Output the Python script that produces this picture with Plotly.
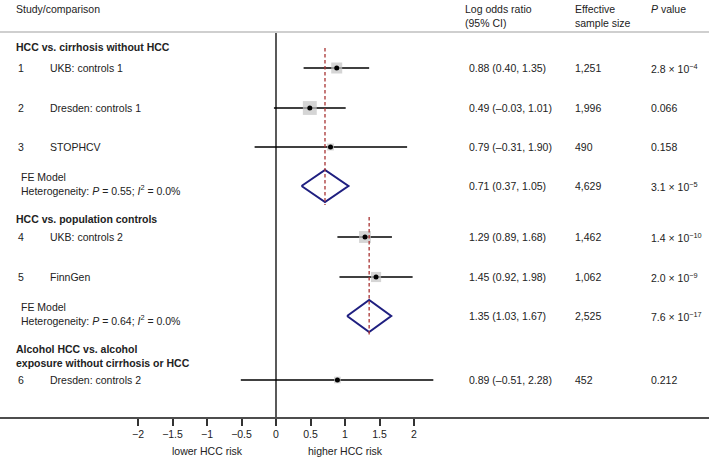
import plotly.graph_objects as go

# ---------------- data ----------------
studies = ["UKB: controls 1", "Dresden: controls 1", "STOPHCV",
           "UKB: controls 2", "FinnGen", "Dresden: controls 2"]
study_num = ["1", "2", "3", "4", "5", "6"]
est = [0.88, 0.49, 0.79, 1.29, 1.45, 0.89]
ci_lo = [0.40, -0.03, -0.31, 0.89, 0.92, -0.51]
ci_hi = [1.35, 1.01, 1.90, 1.68, 1.98, 2.28]
eff_n = [1251, 1996, 490, 1462, 1062, 452]
p_text = ["2.8 × 10<sup>−4</sup>", "0.066", "0.158",
          "1.4 × 10<sup>−10</sup>", "2.0 × 10<sup>−9</sup>", "0.212"]

fe_est = [0.71, 1.35]
fe_lo = [0.37, 1.03]
fe_hi = [1.05, 1.67]
fe_n = [4629, 2525]
fe_p_text = ["3.1 × 10<sup>−5</sup>", "7.6 × 10<sup>−17</sup>"]
het_p = [0.55, 0.64]
het_i2 = [0.0, 0.0]

groups = ["HCC vs. cirrhosis without HCC",
          "HCC vs. population controls",
          "Alcohol HCC vs. alcohol<br>exposure without cirrhosis or HCC"]

xticks = [-2, -1.5, -1, -0.5, 0, 0.5, 1, 1.5, 2]
xtick_text = ["−2", "−1.5", "−1", "−0.5", "0", "0.5", "1", "1.5", "2"]

# ---------------- layout constants (vertical slots, plot units = px) ----------------
W, H = 709, 459
MT, MB = 33, 42
PH = H - MT - MB
row_y = [35, 75, 114, 204, 244, 347]
fe_y = [153, 283]
group_y = [14, 186, 323]
fe_line_span = [(15, 172), (184, 302)]
diamond_half = 16

FONT = "Liberation Sans, Arial, sans-serif"
FS = 10.5
TXT = "#222222"

def px(x):
    return x / W

def fmt(v):
    return f"{v:.2f}".replace("-", "–")

fig = go.Figure()

# CI lines
for i in range(len(est)):
    fig.add_trace(go.Scatter(x=[ci_lo[i], ci_hi[i]], y=[row_y[i], row_y[i]], mode="lines",
                             line=dict(color="black", width=1.7), hoverinfo="skip", showlegend=False))
# weight squares
fig.add_trace(go.Scatter(x=est, y=row_y, mode="markers",
                         marker=dict(symbol="square", color="#c3c3c3",
                                     size=[0.311 * v ** 0.5 for v in eff_n], line=dict(width=0)),
                         hoverinfo="skip", showlegend=False))
# point estimates
fig.add_trace(go.Scatter(x=est, y=row_y, mode="markers",
                         marker=dict(symbol="circle", color="black", size=5),
                         hoverinfo="skip", showlegend=False))

# FE diamonds
for k in range(len(fe_est)):
    y0 = fe_y[k]
    fig.add_trace(go.Scatter(x=[fe_lo[k], fe_est[k], fe_hi[k], fe_est[k], fe_lo[k]],
                             y=[y0, y0 - diamond_half, y0, y0 + diamond_half, y0],
                             mode="lines", fill="toself", fillcolor="white",
                             line=dict(color="#1f1f80", width=2), hoverinfo="skip", showlegend=False))

shapes = []
# zero line
shapes.append(dict(type="line", xref="x", yref="y", x0=0, x1=0, y0=0, y1=PH,
                   line=dict(color="black", width=1.3)))
# FE dashed lines
for k in range(len(fe_est)):
    shapes.append(dict(type="line", xref="x", yref="y", x0=fe_est[k], x1=fe_est[k],
                       y0=fe_line_span[k][0], y1=fe_line_span[k][1],
                       line=dict(color="#a83232", width=1.3, dash="3.5px,2.5px"), layer="above"))
# top rule
shapes.append(dict(type="line", xref="paper", yref="paper", x0=0, x1=1,
                   y0=1 + 1 / PH, y1=1 + 1 / PH, line=dict(color="#cfcfcf", width=2)))

ann = []
def add_text(x, y, text, anchor="left", yref="y", bold=False, size=FS):
    ann.append(dict(x=px(x), y=y, xref="paper", yref=yref, text=f"<b>{text}</b>" if bold else text,
                    showarrow=False, xanchor=anchor, yanchor="middle", align="left",
                    font=dict(family=FONT, size=size, color=TXT)))

# headers (above plot area) in paper coords
def ytop(pix):
    return 1 + (MT - pix) / PH

add_text(14, ytop(9), "Study/comparison", yref="paper")
add_text(463, ytop(16), "Log odds ratio<br>(95% CI)", yref="paper")
add_text(573, ytop(16), "Effective<br>sample size", yref="paper")
add_text(649, ytop(9), "<i>P</i> value", yref="paper")

for g in range(len(groups)):
    add_text(14, group_y[g], groups[g], bold=True)

for i in range(len(est)):
    add_text(21, row_y[i], study_num[i], anchor="center")
    add_text(48, row_y[i], studies[i])
    add_text(467, row_y[i], f"{fmt(est[i])} ({fmt(ci_lo[i])}, {fmt(ci_hi[i])})")
    add_text(573, row_y[i], f"{eff_n[i]:,}")
    add_text(649, row_y[i], p_text[i])

for k in range(len(fe_est)):
    add_text(19, fe_y[k] - 2, f"FE Model<br>Heterogeneity: <i>P</i> = {het_p[k]:.2f}; <i>I</i><sup>2</sup> = {het_i2[k]:.1f}%")
    add_text(467, fe_y[k], f"{fmt(fe_est[k])} ({fmt(fe_lo[k])}, {fmt(fe_hi[k])})")
    add_text(573, fe_y[k], f"{fe_n[k]:,}")
    add_text(649, fe_y[k], fe_p_text[k])

# risk direction labels
for xv, t in [(-1, "lower HCC risk"), (1, "higher HCC risk")]:
    ann.append(dict(x=xv, y=-(451 - MT - PH) / PH, xref="x", yref="paper", text=t, showarrow=False,
                    xanchor="center", yanchor="middle", font=dict(family=FONT, size=FS, color=TXT)))

x_range = [-276 / 69, (W - 276) / 69]

fig.update_layout(
    width=W, height=H,
    margin=dict(l=0, r=0, t=MT, b=MB, pad=0),
    paper_bgcolor="white", plot_bgcolor="white",
    showlegend=False,
    shapes=shapes, annotations=ann,
    xaxis=dict(range=x_range, showgrid=False, zeroline=False, showline=True,
               linecolor="#4d4d4d", linewidth=1.5, ticks="outside", ticklen=7,
               tickwidth=1.5, tickcolor="#333333", tickvals=xticks, ticktext=xtick_text,
               tickfont=dict(family=FONT, size=FS, color=TXT), automargin=False, fixedrange=True),
    yaxis=dict(range=[PH, 0], showgrid=False, zeroline=False, showline=False,
               showticklabels=False, ticks="", automargin=False, fixedrange=True),
)

fig.write_html("out.html", config={"displayModeBar": False},
               post_script="document.body.style.margin='0';document.body.style.overflow='hidden';")
